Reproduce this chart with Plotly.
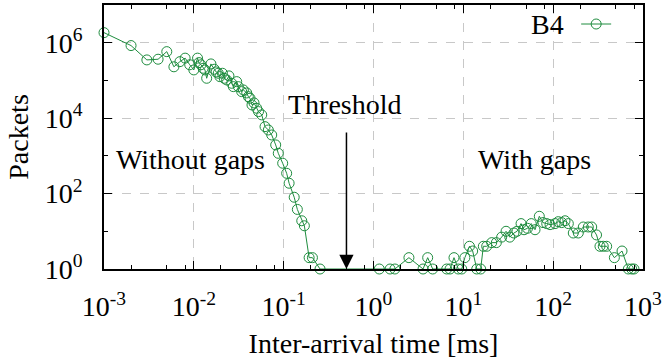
import math
import plotly.graph_objects as go

SERIES_NAME = "B4"
THRESHOLD_MS = 0.5

# Inter-arrival time [ms] and packet counts, "without gaps" part
x_left = [0.001, 0.002, 0.003, 0.004, 0.005, 0.006, 0.007, 0.008, 0.009, 0.010,
          0.011, 0.0114, 0.012, 0.0127, 0.0133, 0.0139, 0.0155, 0.0169, 0.0177, 0.0187,
          0.0195, 0.0208, 0.0218, 0.0232, 0.0246, 0.0264, 0.0275, 0.0300, 0.0313, 0.0341,
          0.0356, 0.0388, 0.0404, 0.0422, 0.0444, 0.0468, 0.0501, 0.0525, 0.0570, 0.0620,
          0.0675, 0.0736, 0.0815, 0.0871, 0.0975, 0.108, 0.115, 0.131, 0.142, 0.159,
          0.170, 0.192, 0.209, 0.254]
y_left = [1850000, 840000, 350000, 365000, 580000, 230000, 315000, 390000, 260000, 190000,
          390000, 297000, 260000, 210000, 190000, 114000, 274000, 198000, 168000, 155000,
          126000, 155000, 114000, 103000, 132000, 84000, 68500, 93000, 68500, 50500,
          56000, 46600, 37200, 33700, 22400, 25300, 18300, 14900, 12200, 5950,
          4860, 3580, 1950, 1170, 637, 345, 188, 80, 38, 19,
          14, 2, 2, 1]

# "with gaps" part
x_right = [1.16, 1.53, 1.73, 2.48, 3.56, 4.01, 4.56, 6.53, 7.11, 7.87,
           8.79, 9.6, 10.4, 11.7, 12.7, 14.1, 15.6, 16.7, 18.2, 20.7,
           23.3, 26.7, 29.9, 32.9, 36.6, 39.6, 43.9, 47.4, 51.8, 57.0,
           62.8, 70.1, 77.1, 84.8, 92.3, 105, 114, 124.5, 135.5, 147.5,
           167.5, 190.5, 216.5, 246, 268.5, 304, 332, 361, 394, 480,
           584, 687, 749, 794]
y_right = [1, 1, 1, 2, 1, 2, 1, 1, 1, 2,
           1, 1, 2, 4, 3, 1, 1, 4, 4, 5,
           5, 7, 10, 7, 9, 10, 16, 11, 12, 16,
           11, 25, 17, 16, 15, 16, 18, 17, 19, 16,
           9, 9, 13, 13, 13, 8, 4, 4, 4, 2,
           3, 1, 1, 1]

X_TICK_VALS = [1e-3, 1e-2, 1e-1, 1, 10, 100, 1000]
X_TICK_TEXT = ["10<sup>-3</sup>", "10<sup>-2</sup>", "10<sup>-1</sup>", "10<sup>0</sup>",
               "10<sup>1</sup>", "10<sup>2</sup>", "10<sup>3</sup>"]
Y_TICK_VALS = [1, 1e2, 1e4, 1e6]
Y_TICK_TEXT = ["10<sup>0</sup>", "10<sup>2</sup>", "10<sup>4</sup>", "10<sup>6</sup>"]
X_MINOR_VALS = [m * 10.0 ** e for e in range(-3, 3) for m in (2, 5, 8)]
Y_MINOR_VALS = [10, 1e3, 1e5]

GREEN = "#1e8c3e"
FONT = "Liberation Serif"
FS = 28
GRID = "#c8c8c8"

fig = go.Figure()
fig.add_trace(go.Scatter(
    x=x_left + x_right, y=y_left + y_right, name=SERIES_NAME,
    mode="lines+markers", showlegend=False, cliponaxis=False,
    line=dict(color=GREEN, width=1),
    marker=dict(symbol="circle-open", size=10, color=GREEN, line=dict(width=1, color=GREEN)),
))
# legend sample (symbol only; label drawn as text to its left, gnuplot style)
fig.add_trace(go.Scatter(
    x=[None], y=[None], name=" ", mode="lines+markers", showlegend=True,
    line=dict(color=GREEN, width=1),
    marker=dict(symbol="circle-open", size=10, color=GREEN, line=dict(width=1, color=GREEN)),
))

axis_common = dict(
    type="log", showline=True, linecolor="black", linewidth=1.5, mirror="allticks",
    ticks="inside", ticklen=8, tickwidth=1, tickcolor="black",
    showgrid=True, gridcolor=GRID, griddash="dash", gridwidth=1,
    zeroline=False, automargin=False,
    tickfont=dict(family=FONT, size=FS, color="black"),
)

fig.update_xaxes(
    **axis_common, range=[-3, 3], tickmode="array", tickvals=X_TICK_VALS, ticktext=X_TICK_TEXT,
    ticklabelstandoff=12,
    title=dict(text="Inter-arrival time [ms]", font=dict(family=FONT, size=FS, color="black"), standoff=12),
    minor=dict(tickmode="array", tickvals=X_MINOR_VALS, ticks="inside", ticklen=4,
               tickcolor="black", showgrid=False),
)
fig.update_yaxes(
    **axis_common, range=[0, 7], tickmode="array", tickvals=Y_TICK_VALS, ticktext=Y_TICK_TEXT,
    ticklabelstandoff=14,
    title=dict(text="Packets", font=dict(family=FONT, size=FS, color="black"), standoff=8),
    minor=dict(tickmode="array", tickvals=Y_MINOR_VALS, ticks="inside", ticklen=4,
               tickcolor="black", showgrid=False),
)

txt = dict(family=FONT, size=FS, color="black")
fig.add_annotation(x=0.16, y=0.413, xref="paper", yref="paper", text="Without gaps",
                   showarrow=False, font=txt, xanchor="center", yanchor="middle")
fig.add_annotation(x=0.798, y=0.413, xref="paper", yref="paper", text="With gaps",
                   showarrow=False, font=txt, xanchor="center", yanchor="middle")
fig.add_annotation(x=0.447, y=0.625, xref="paper", yref="paper", text="Threshold",
                   showarrow=False, font=txt, xanchor="center", yanchor="middle")
fig.add_annotation(x=math.log10(THRESHOLD_MS), y=0, xref="x", yref="y", text="",
                   showarrow=True, ax=0, ay=-138, arrowhead=2, arrowsize=1.9,
                   arrowwidth=1.5, arrowcolor="black", standoff=0)
fig.add_annotation(x=0.858, y=0.928, xref="paper", yref="paper", text=SERIES_NAME,
                   showarrow=False, font=txt, xanchor="right", yanchor="middle")

fig.update_layout(
    width=663, height=362,
    margin=dict(l=104, r=20, t=5, b=93),
    plot_bgcolor="white", paper_bgcolor="white",
    font=dict(family=FONT, size=FS, color="black"),
    legend=dict(x=0.876, y=0.928, xanchor="left", yanchor="middle",
                bgcolor="rgba(0,0,0,0)", font=dict(family=FONT, size=10)),
)

fig.write_html("out.html", config={"displayModeBar": False},
               post_script="document.body.style.margin='0';")
